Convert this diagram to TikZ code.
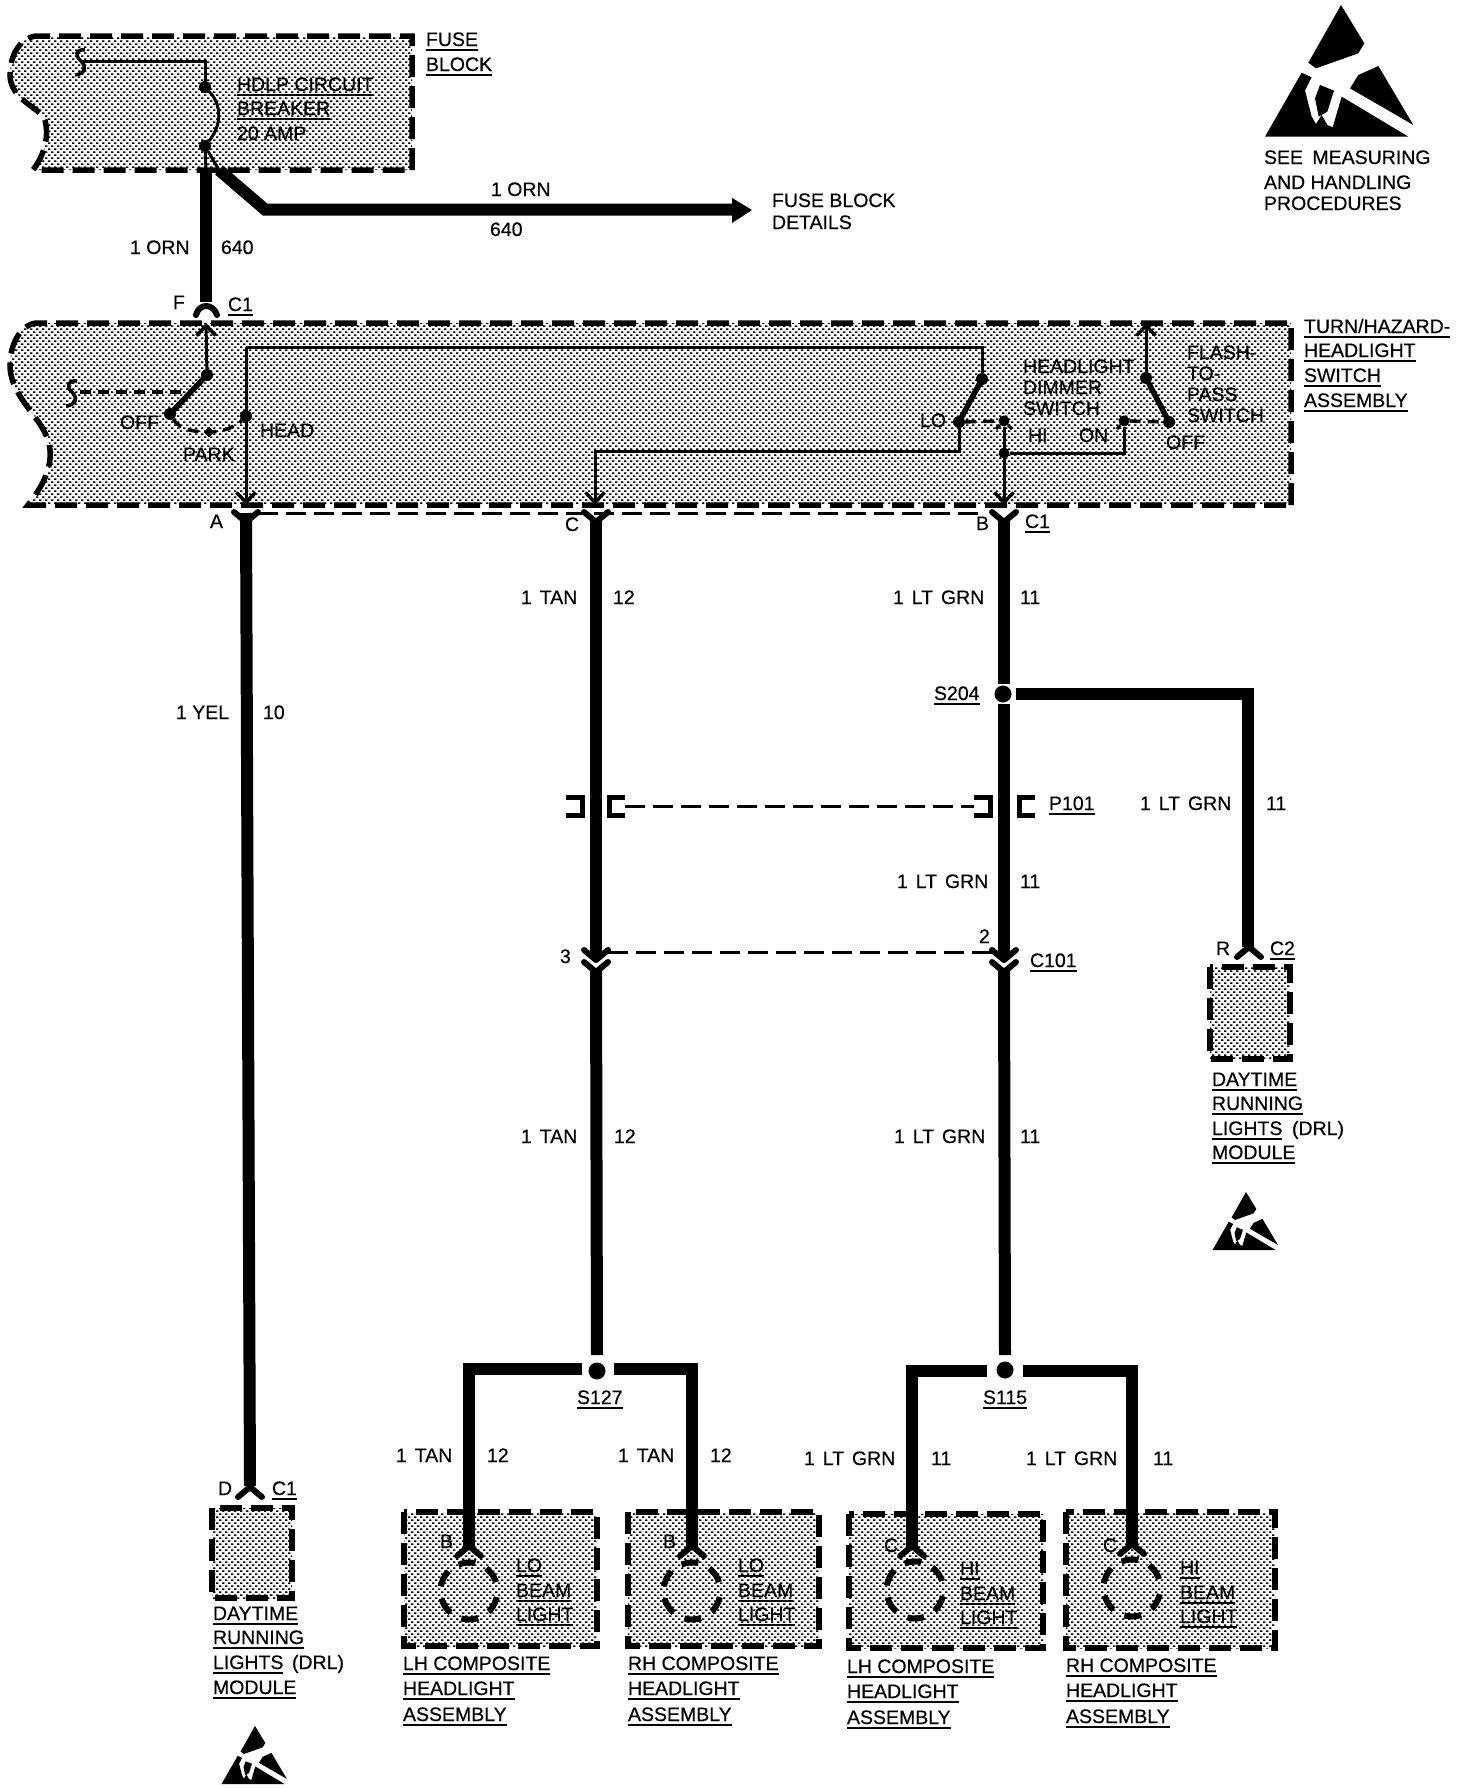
\documentclass[tikz,border=0pt]{standalone}
\usepackage{fontspec}
\setmainfont[FakeBold=0.45]{Liberation Sans}
\usetikzlibrary{patterns,arrows.meta,calc,shapes.geometric}
\pgfdeclarepatternformonly{stip}{\pgfqpoint{-0.1pt}{-0.1pt}}{\pgfqpoint{6pt}{6pt}}{\pgfqpoint{6pt}{6pt}}{%
  \pgfpathrectangle{\pgfqpoint{0pt}{0pt}}{\pgfqpoint{2.3pt}{1.5pt}}%
  \pgfpathrectangle{\pgfqpoint{3pt}{3pt}}{\pgfqpoint{2.3pt}{1.5pt}}%
  \pgfusepath{fill}}
\newcommand\ULX[1]{\vtop{\hbox{#1}\kern2.6pt\hrule height 2.6pt}}
\newcommand\WS{\hspace{2.5pt} }
\tikzset{
  lbl/.style={anchor=base west,inner sep=0pt,outer sep=0pt,font=\fontsize{19.5}{20}\selectfont},
  block/.style={pattern=stip,pattern color=black,draw=black,line width=5.5pt,dash pattern=on 22pt off 9pt,line join=miter},
  wire/.style={line width=12pt,line join=miter},
  fine/.style={line width=3pt,line join=miter},
  blade/.style={line width=5.5pt,line cap=round},
  swdash/.style={line width=3.5pt,dash pattern=on 11pt off 7pt},
  rowdash/.style={line width=3pt,dash pattern=on 20pt off 8pt},
  conn/.style={line width=6pt,line cap=round,line join=round},
  dot/.style={circle,fill=black,inner sep=0pt,minimum size=#1},
  barb/.style={-{Straight Barb[length=10pt,width=19pt,line width=3.5pt]}},
  bulb/.style={line width=6pt,dash pattern=on 17pt off 12.32pt,dash phase=23.16pt},
  brack/.style={line width=5pt,line join=miter}
}
\newcommand\TX[4]{\node[lbl] (#1) at (#2,#3) {#4};}
\newcommand\UX[4]{\node[lbl] (#1) at (#2,#3) {\ULX{#4}};}
% connector ends
\newcommand\YUP[2]{\draw[conn] (#1-12,#2+10) -- (#1,#2) -- (#1+12,#2+10);}   % ^ under a wire end
\newcommand\YDN[2]{\draw[conn] (#1-12,#2-10) -- (#1,#2) -- (#1+12,#2-10);}   % v
\newcommand\ESD[3]{%
 \begin{scope}[shift={(#1,#2)},scale=#3,shift={(-303,-15)}]
  \fill (303,15) -- (373,130) -- (355,160) -- (228,205) -- (205,188) -- cycle;
  \fill (75,410) -- (185,218) -- (215,232) -- (195,272) -- (215,350) -- (228,372) -- (245,345) -- (262,375) -- (278,382) -- (305,290) -- (505,410) -- cycle;
  \fill (330,265) -- (355,225) -- (415,198) -- (520,375) -- cycle;
  \fill (240,255) -- (282,272) -- (262,335) -- (236,350) -- (225,295) -- cycle;
 \end{scope}}
\begin{document}
\begin{tikzpicture}[x=1pt,y=-1pt]
\useasboundingbox (0,0) rectangle (1472,1788);
% ---- blocks
\draw[block] (412,170) -- (412,36) -- (36,36) .. controls (20,38) and (10,55) .. (10,75) .. controls (10,100) and (41,108) .. (45,120) .. controls (50,140) and (42,158) .. (33,170) -- cycle;
\draw[block] (1291,505) -- (1291,323) -- (36,323) .. controls (20,325) and (10,345) .. (10,365) .. controls (10,400) and (48,420) .. (50,450) .. controls (52,470) and (40,490) .. (28,505) -- cycle;
\draw[block] (212,1508) rectangle (292,1598);
\draw[block] (1210,967) rectangle (1290,1059);
\draw[block] (404,1512) rectangle (597,1646);
\draw[block] (628,1512) rectangle (819,1646);
\draw[block] (849,1514) rectangle (1043,1648);
\draw[block] (1066,1512) rectangle (1275,1648);

% ---- named points
\coordinate (fa) at (206,170);
\coordinate (fb) at (206,302);
\coordinate (ba) at (219,170);
\coordinate (bb) at (265,209.5);
\coordinate (bc) at (734,209.5);
\coordinate (A1) at (246,513);
\coordinate (A2) at (250,1486);
\coordinate (C1) at (596,520);
\coordinate (C2) at (596,958);
\coordinate (C3) at (596,970);
\coordinate (C4) at (597,1355);
\coordinate (B1) at (1004,520);
\coordinate (B2) at (1004,684);
\coordinate (B3) at (1004,704);
\coordinate (B4) at (1004,958);
\coordinate (B5) at (1004,970);
\coordinate (B6) at (1005,1355);
\coordinate (Br1) at (1016,694);
\coordinate (Br2) at (1248,694);
\coordinate (Br3) at (1248,947);

% ---- heavy wires
\draw[wire] (fa) -- (fb);
\draw[wire] (ba) -- (bb) -- (bc);
\fill (732,198) -- (752,210) -- (732,223) -- cycle;
\draw[wire] (A1) -- (A2);
\draw[wire] (C1) -- (C2);
\draw[wire] (C3) -- (C4);
\draw[wire] (B1) -- (B2);
\draw[wire] (B3) -- (B4);
\draw[wire] (B5) -- (B6);
\draw[wire] (Br1) -- (Br2) -- (Br3);
% S127
\node[dot=17pt] (s127) at (597,1371) {};
\coordinate (l1) at (582,1368.5); \coordinate (l2) at (469,1368.5); \coordinate (l3) at (469,1548);
\coordinate (r1) at (614,1368.5); \coordinate (r2) at (692,1368.5); \coordinate (r3) at (692,1548);
\draw[wire] (l1) -- (l2) -- (l3);
\draw[wire] (r1) -- (r2) -- (r3);
% S115
\node[dot=17pt] (s115) at (1005,1370) {};
\coordinate (m1) at (987,1370.5); \coordinate (m2) at (912,1370.5); \coordinate (m3) at (912,1548);
\coordinate (n1) at (1023,1370.5); \coordinate (n2) at (1132,1370.5); \coordinate (n3) at (1132,1546);
\draw[wire] (m1) -- (m2) -- (m3);
\draw[wire] (n1) -- (n2) -- (n3);
% S204
\node[dot=17pt] (s204) at (1003,694) {};

% ---- connector ends
\draw[conn] (196,315) .. controls (199,303) and (213,303) .. (217,315);
\YDN{246}{522} \YDN{596}{522} \YDN{1004}{522}
\YDN{596}{960} \YDN{596}{972}
\YDN{1004}{960} \YDN{1004}{972}
\YUP{250}{1487} \YUP{1249}{947}
\YUP{469}{1546} \YUP{692}{1546} \YUP{912}{1546} \YUP{1132}{1544}

% ---- row dashes
\draw[rowdash] (258,513) -- (985,513);
\draw[rowdash] (608,952) -- (992,952);
\draw[rowdash] (625,806) -- (974,806);
% P101 brackets
\draw[brack] (566,797) -- (582,797) -- (582,815) -- (566,815);
\draw[brack] (625,797) -- (609,797) -- (609,815) -- (625,815);
\draw[brack] (974,797) -- (990,797) -- (990,815) -- (974,815);
\draw[brack] (1035,797) -- (1019,797) -- (1019,815) -- (1035,815);

% ---- fuse block interior
\node[dot=12pt] (cb1) at (205,87) {};
\node[dot=12pt] (cb2) at (205,146) {};
\coordinate (sq1) at (81,61);
\coordinate (sq1b) at (205,61);
\draw[fine,line width=3.5pt] (85,50) .. controls (75,49) and (75,56) .. (81,61) .. controls (87,67) and (85,74) .. (75,75);
\draw[fine] (sq1) -- (sq1b) -- (cb1);
\draw[fine] (cb1) .. controls (222,105) and (222,125) .. (cb2);
\draw[fine] (cb2) -- (fa);
\draw[fine] (cb2) -- (ba);

% ---- switch interior, left
\coordinate (Ftop) at (206,323);
\node[dot=12pt] (h1) at (207,375) {};
\node[dot=12pt] (h2) at (170,414) {};
\node[dot=11pt,diamond] (park) at (209,432) {};
\node[dot=12pt] (head) at (246,416) {};
\coordinate (sq2) at (72,392);
\coordinate (sq2b) at (191,392);
\coordinate (Atop) at (246,347);
\coordinate (Abot) at (246,505);
\coordinate (Rtop) at (982,347);
\node[dot=12pt] (lo1) at (982,379) {};
\node[dot=12pt] (lo2) at (959,422) {};
\coordinate (Cm) at (959,451);
\coordinate (Cl) at (595,451);
\coordinate (Cbot) at (595,505);
\node[dot=11pt] (hi) at (1004,421) {};
\node[dot=11pt] (jn) at (1004,453) {};
\coordinate (Bbot) at (1004,505);
\coordinate (Onr) at (1124,453);
\node[dot=11pt] (on) at (1124,421) {};
\node[dot=12pt] (off) at (1169,422) {};
\node[dot=12pt] (fp) at (1146,378) {};
\coordinate (Fptop) at (1146,323);
\draw[fine,barb] (h1) -- (Ftop);
\draw[blade] (h1) -- (h2);
\draw[fine,line width=3.5pt] (77,381) .. controls (67,380) and (66,387) .. (72,392) .. controls (78,398) and (76,405) .. (66,406);
\draw[swdash] (sq2) ++(8,0) -- (sq2b);
\draw[swdash] (h2) .. controls (180,430) and (195,432) .. (park.center) .. controls (225,432) and (238,425) .. (head);
\draw[fine,barb] (Atop) -- (Abot);
\draw[fine] (Atop) -- (Rtop) -- (lo1);
\draw[blade] (lo1) -- (lo2);
\draw[fine,barb] (lo2) -- (Cm) -- (Cl) -- (Cbot);
\draw[swdash] (lo2) -- (hi);
\draw[fine,barb] (hi) -- (Bbot);
\draw[fine] (jn) -- (Onr) -- (on);
\draw[swdash] (on) -- (off);
\draw[blade] (fp) -- (off);
\draw[fine,barb] (fp) -- (Fptop);
% little barbs on HI and ON contacts
\draw[fine] (996,429) -- (hi) -- (1012,429);
\draw[fine] (1117,429) -- (on);

% ---- bulbs
\draw[bulb] (469,1591) circle (28.5);
\draw[bulb] (692,1591) circle (28.5);
\draw[bulb] (915,1590) circle (28.5);
\draw[bulb] (1132,1588) circle (28.5);

% ---- ESD marks
\ESD{1341}{5}{0.3333}
\ESD{1246}{1192}{0.147}
\ESD{255}{1726}{0.147}

% ---- texts
\UX{t1}{426}{46}{FUSE}
\UX{t2}{426}{71}{BLOCK}
\UX{t3}{237}{91}{HDLP CIRCUIT}
\UX{t4}{237}{115}{BREAKER}
\TX{t5}{237}{140}{20 AMP}
\TX{t6}{491}{196}{1 ORN}
\TX{t7}{490}{236}{640}
\TX{t8}{772}{207}{FUSE BLOCK}
\TX{t9}{772}{229}{DETAILS}
\TX{t10}{130}{254}{1 ORN}
\TX{t11}{221}{254}{640}
\TX{t12}{173}{309}{F}
\UX{t13}{228}{311}{C1}
\TX{t14}{1264}{164}{SEE\hspace{4pt} MEASURING}
\TX{t15}{1264}{189}{AND HANDLING}
\TX{t16}{1264}{210}{PROCEDURES}
\UX{t17}{1304}{333}{TURN/HAZARD-}
\UX{t18}{1304}{357}{HEADLIGHT}
\UX{t19}{1304}{382}{SWITCH}
\UX{t20}{1304}{407}{ASSEMBLY}
\TX{t21}{120}{429}{OFF}
\TX{t22}{183}{461}{PARK}
\TX{t23}{260}{437}{HEAD}
\TX{t24}{920}{427}{LO}
\TX{t25}{1023}{373}{HEADLIGHT}
\TX{t26}{1023}{394}{DIMMER}
\TX{t27}{1023}{415}{SWITCH}
\TX{t28}{1028}{442}{HI}
\TX{t29}{1079}{442}{ON}
\TX{t30}{1166}{449}{OFF}
\TX{t31}{1187}{359}{FLASH-}
\TX{t32}{1187}{380}{TO-}
\TX{t33}{1187}{401}{PASS}
\TX{t34}{1187}{422}{SWITCH}
\TX{t35}{210}{528}{A}
\TX{t36}{565}{531}{C}
\TX{t37}{976}{530}{B}
\UX{t38}{1025}{528}{C1}
\TX{t39}{521}{604}{1\WS TAN}
\TX{t40}{613}{604}{12}
\TX{t41}{893}{604}{1\WS LT\WS GRN}
\TX{t42}{1020}{604}{11}
\TX{t43}{176}{719}{1 YEL}
\TX{t44}{263}{719}{10}
\UX{t45}{934}{700}{S204}
\UX{t46}{1049}{810}{P101}
\TX{t47}{1140}{810}{1\WS LT\WS GRN}
\TX{t48}{1266}{810}{11}
\TX{t49}{897}{888}{1\WS LT\WS GRN}
\TX{t50}{1020}{888}{11}
\TX{t51}{560}{963}{3}
\TX{t52}{979}{943}{2}
\UX{t53}{1030}{967}{C101}
\TX{t54}{521}{1143}{1\WS TAN}
\TX{t55}{614}{1143}{12}
\TX{t56}{894}{1143}{1\WS LT\WS GRN}
\TX{t57}{1020}{1143}{11}
\TX{t58}{1216}{955}{R}
\UX{t59}{1270}{955}{C2}
\UX{t60}{1212}{1086}{DAYTIME}
\UX{t61}{1212}{1110}{RUNNING}
\UX{t62}{1212}{1135}{LIGHTS}
\TX{t63}{1292}{1135}{(DRL)}
\UX{t64}{1212}{1159}{MODULE}
\UX{t65}{577}{1404}{S127}
\UX{t66}{983}{1404}{S115}
\TX{t67}{396}{1462}{1\WS TAN}
\TX{t68}{487}{1462}{12}
\TX{t69}{618}{1462}{1\WS TAN}
\TX{t70}{710}{1462}{12}
\TX{t71}{804}{1465}{1\WS LT\WS GRN}
\TX{t72}{931}{1465}{11}
\TX{t73}{1026}{1465}{1\WS LT\WS GRN}
\TX{t74}{1153}{1465}{11}
\TX{t75}{218}{1495}{D}
\UX{t76}{272}{1495}{C1}
\TX{t77}{440}{1548}{B}
\TX{t78}{663}{1548}{B}
\TX{t79}{884}{1552}{C}
\TX{t80}{1103}{1552}{C}
\UX{t81}{516}{1572}{LO}
\UX{t82}{516}{1597}{BEAM}
\UX{t83}{516}{1621}{LIGHT}
\UX{t84}{738}{1572}{LO}
\UX{t85}{738}{1597}{BEAM}
\UX{t86}{738}{1621}{LIGHT}
\UX{t87}{960}{1575}{HI}
\UX{t88}{960}{1600}{BEAM}
\UX{t89}{960}{1624}{LIGHT}
\UX{t90}{1180}{1574}{HI}
\UX{t91}{1180}{1599}{BEAM}
\UX{t92}{1180}{1623}{LIGHT}
\UX{t93}{213}{1620}{DAYTIME}
\UX{t94}{213}{1644}{RUNNING}
\UX{t95}{213}{1669}{LIGHTS}
\TX{t96}{292}{1669}{(DRL)}
\UX{t97}{213}{1694}{MODULE}
\UX{t98}{403}{1670}{LH COMPOSITE}
\UX{t99}{403}{1695}{HEADLIGHT}
\UX{t100}{403}{1721}{ASSEMBLY}
\UX{t101}{628}{1670}{RH COMPOSITE}
\UX{t102}{628}{1695}{HEADLIGHT}
\UX{t103}{628}{1721}{ASSEMBLY}
\UX{t104}{847}{1673}{LH COMPOSITE}
\UX{t105}{847}{1698}{HEADLIGHT}
\UX{t106}{847}{1724}{ASSEMBLY}
\UX{t107}{1066}{1672}{RH COMPOSITE}
\UX{t108}{1066}{1697}{HEADLIGHT}
\UX{t109}{1066}{1723}{ASSEMBLY}
\end{tikzpicture}
\end{document}
